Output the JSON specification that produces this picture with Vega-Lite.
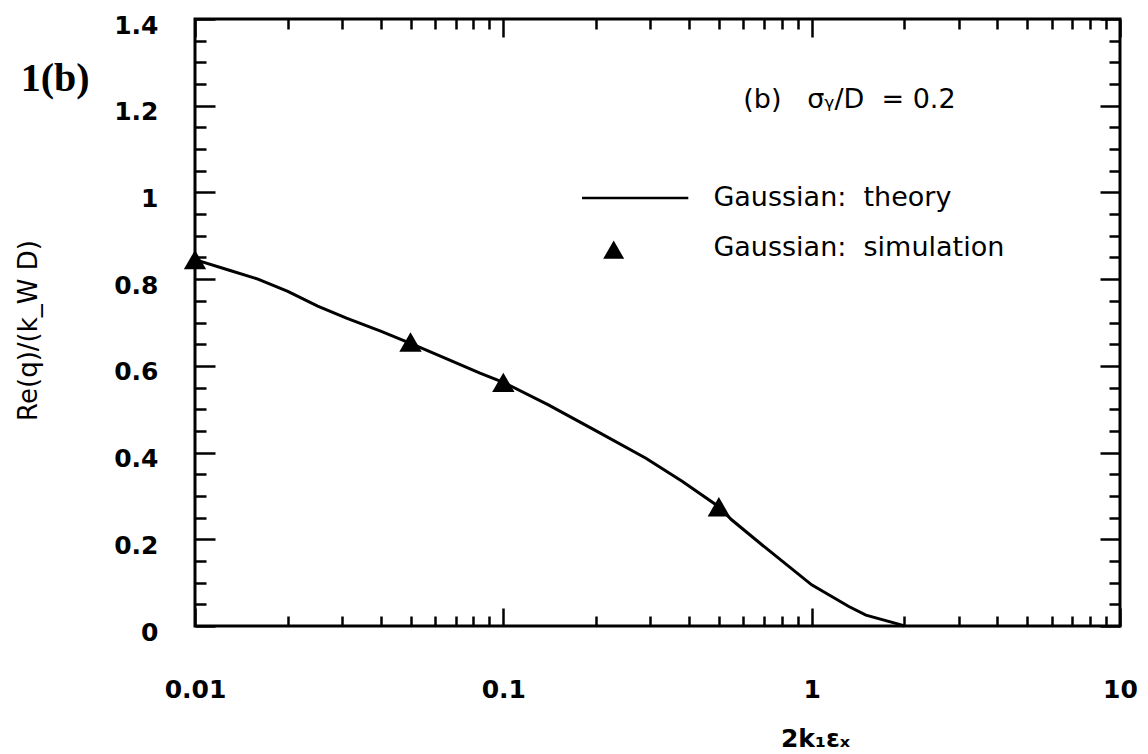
{
  "$schema": "https://vega.github.io/schema/vega-lite/v6.json",
  "width": 925,
  "height": 607,
  "autosize": {"type": "none"},
  "padding": {"left": 195, "top": 19, "right": 28, "bottom": 128},
  "background": "white",
  "config": {
    "view": {"stroke": "black", "strokeWidth": 3},
    "axis": {"domain": false, "grid": false, "tickColor": "black", "tickWidth": 2.5, "labelColor": "black", "titleColor": "black", "labelFont": "DejaVu Sans", "titleFont": "DejaVu Sans", "labelFlush": false, "labelOverlap": false}
  },
  "datasets": {
    "theory": [
      {"x": 0.01, "y": 0.845}, {"x": 0.013, "y": 0.82}, {"x": 0.016, "y": 0.8}, {"x": 0.02, "y": 0.772},
      {"x": 0.025, "y": 0.738}, {"x": 0.031, "y": 0.71}, {"x": 0.04, "y": 0.68}, {"x": 0.05, "y": 0.652},
      {"x": 0.065, "y": 0.617}, {"x": 0.084, "y": 0.583}, {"x": 0.1, "y": 0.562}, {"x": 0.14, "y": 0.51},
      {"x": 0.2, "y": 0.45}, {"x": 0.29, "y": 0.387}, {"x": 0.38, "y": 0.334}, {"x": 0.5, "y": 0.275},
      {"x": 0.55, "y": 0.245}, {"x": 0.71, "y": 0.18}, {"x": 1.0, "y": 0.095}, {"x": 1.32, "y": 0.045},
      {"x": 1.5, "y": 0.025}, {"x": 1.9, "y": 0.005}, {"x": 2.0, "y": 0.0}
    ],
    "simulation": [
      {"x": 0.01, "y": 0.845}, {"x": 0.05, "y": 0.655}, {"x": 0.1, "y": 0.562}, {"x": 0.5, "y": 0.275}
    ],
    "single": [{}]
  },
  "layer": [
    {
      "data": {"name": "theory"},
      "mark": {"type": "line", "color": "black", "strokeWidth": 3},
      "encoding": {
        "x": {"field": "x", "type": "quantitative", "scale": {"type": "log", "domain": [0.01, 10]},
          "axis": {"orient": "bottom", "values": [0.01, 0.1, 1, 10], "format": "~g", "tickSize": -18, "labelPadding": 69, "labelFontSize": 25, "labelFontWeight": "bold",
            "title": "2k₁εₓ", "titleFontSize": 25, "titleFontWeight": "bold", "titleX": 620, "titleY": 112, "titleBaseline": "middle", "titleAlign": "center"}},
        "y": {"field": "y", "type": "quantitative", "scale": {"domain": [0, 1.4]},
          "axis": {"orient": "left", "values": [0, 0.2, 0.4, 0.6, 0.8, 1, 1.2, 1.4], "format": "~g", "tickSize": -20, "labelPadding": 57, "labelOffset": 6, "labelFontSize": 25, "labelFontWeight": "bold",
            "title": "Re(q)/(k_W D)", "titleFontSize": 26, "titleFontWeight": "normal", "titleX": -167, "titleY": 311, "titleAngle": -90, "titleBaseline": "middle", "titleAlign": "center"}}
      }
    },
    {
      "data": {"name": "simulation"},
      "mark": {"type": "point", "shape": "triangle-up", "filled": true, "color": "black", "opacity": 1, "size": 500},
      "encoding": {
        "x": {"field": "x", "type": "quantitative", "axis": {"orient": "top", "values": [0.01, 0.1, 1, 10], "labels": false, "tickSize": -18, "title": null}},
        "y": {"field": "y", "type": "quantitative", "axis": {"orient": "right", "values": [0, 0.2, 0.4, 0.6, 0.8, 1, 1.2, 1.4], "labels": false, "tickSize": -20, "title": null}}
      }
    },
    {
      "data": {"name": "simulation"},
      "mark": {"type": "point", "opacity": 0},
      "encoding": {
        "x": {"field": "x", "type": "quantitative", "axis": {"orient": "bottom", "values": [0.02, 0.03, 0.04, 0.05, 0.06, 0.07, 0.08, 0.09, 0.2, 0.3, 0.4, 0.5, 0.6, 0.7, 0.8, 0.9, 2, 3, 4, 5, 6, 7, 8, 9], "labels": false, "tickSize": -10, "title": null}},
        "y": {"field": "y", "type": "quantitative", "axis": {"orient": "left", "values": [0.05, 0.1, 0.15, 0.25, 0.3, 0.35, 0.45, 0.5, 0.55, 0.65, 0.7, 0.75, 0.85, 0.9, 0.95, 1.05, 1.1, 1.15, 1.25, 1.3, 1.35], "labels": false, "tickSize": -11, "title": null}}
      }
    },
    {
      "data": {"name": "simulation"},
      "mark": {"type": "point", "opacity": 0},
      "encoding": {
        "x": {"field": "x", "type": "quantitative", "axis": {"orient": "top", "values": [0.02, 0.03, 0.04, 0.05, 0.06, 0.07, 0.08, 0.09, 0.2, 0.3, 0.4, 0.5, 0.6, 0.7, 0.8, 0.9, 2, 3, 4, 5, 6, 7, 8, 9], "labels": false, "tickSize": -10, "title": null}},
        "y": {"field": "y", "type": "quantitative", "axis": {"orient": "right", "values": [0.05, 0.1, 0.15, 0.25, 0.3, 0.35, 0.45, 0.5, 0.55, 0.65, 0.7, 0.75, 0.85, 0.9, 0.95, 1.05, 1.1, 1.15, 1.25, 1.3, 1.35], "labels": false, "tickSize": -11, "title": null}}
      }
    },
    {
      "data": {"name": "single"},
      "mark": {"type": "rule", "color": "black", "strokeWidth": 2.5},
      "encoding": {
        "x": {"datum": 0.18, "type": "quantitative", "axis": null},
        "x2": {"datum": 0.398},
        "y": {"datum": 0.987, "type": "quantitative", "axis": null}
      }
    },
    {
      "data": {"name": "single"},
      "mark": {"type": "point", "shape": "triangle-up", "filled": true, "color": "black", "opacity": 1, "size": 440},
      "encoding": {
        "x": {"datum": 0.228, "type": "quantitative", "axis": null},
        "y": {"datum": 0.868, "type": "quantitative", "axis": null}
      }
    },
    {
      "data": {"name": "single"},
      "mark": {"type": "text", "text": "Gaussian:\u00a0\u00a0theory", "align": "left", "baseline": "middle", "font": "DejaVu Sans", "fontSize": 27, "color": "black"},
      "encoding": {
        "x": {"datum": 0.48, "type": "quantitative", "axis": null},
        "y": {"datum": 0.987, "type": "quantitative", "axis": null}
      }
    },
    {
      "data": {"name": "single"},
      "mark": {"type": "text", "text": "Gaussian:\u00a0\u00a0simulation", "align": "left", "baseline": "middle", "font": "DejaVu Sans", "fontSize": 27, "color": "black"},
      "encoding": {
        "x": {"datum": 0.48, "type": "quantitative", "axis": null},
        "y": {"datum": 0.872, "type": "quantitative", "axis": null}
      }
    },
    {
      "data": {"name": "single"},
      "mark": {"type": "text", "text": "(b)\u00a0\u00a0\u00a0σᵧ/D\u00a0\u00a0=\u00a00.2", "align": "left", "baseline": "middle", "font": "DejaVu Sans", "fontSize": 27, "color": "black"},
      "encoding": {
        "x": {"datum": 0.6, "type": "quantitative", "axis": null},
        "y": {"datum": 1.213, "type": "quantitative", "axis": null}
      }
    },
    {
      "data": {"name": "single"},
      "mark": {"type": "text", "text": "1(b)", "align": "left", "baseline": "alphabetic", "font": "Liberation Serif", "fontSize": 40, "fontWeight": "bold", "color": "black"},
      "encoding": {
        "x": {"datum": 0.00272, "type": "quantitative", "axis": null},
        "y": {"datum": 1.234, "type": "quantitative", "axis": null}
      }
    }
  ],
  "resolve": {"axis": {"x": "independent", "y": "independent"}}
}
